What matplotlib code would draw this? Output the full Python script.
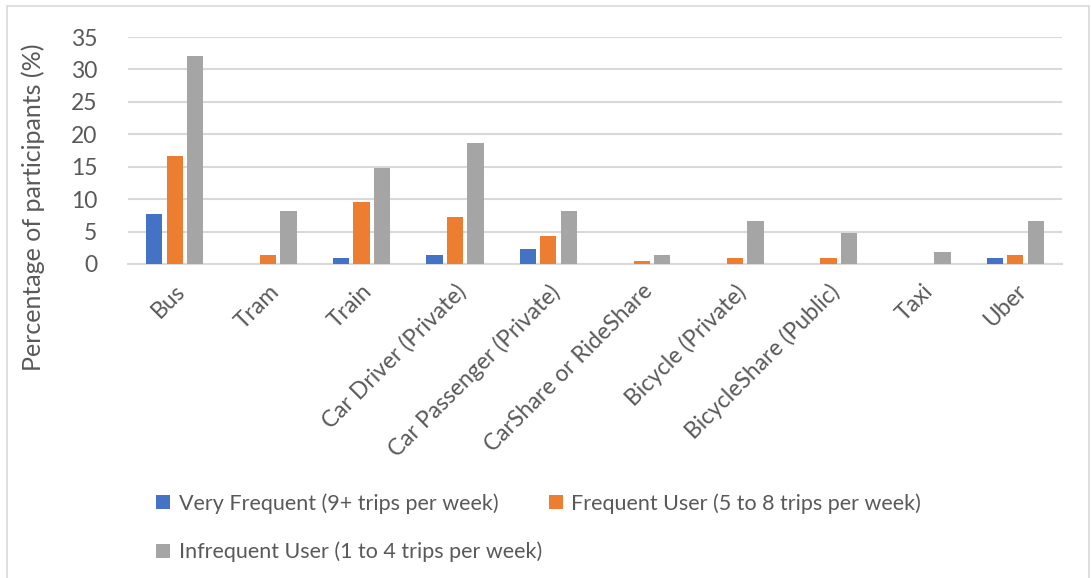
import matplotlib
matplotlib.use('Agg')
import matplotlib.pyplot as plt
from matplotlib.patches import Rectangle
import numpy as np

modes = ['Bus', 'Tram', 'Train', 'Car Driver (Private)', 'Car Passenger (Private)',
         'CarShare or RideShare', 'Bicycle (Private)', 'BicycleShare (Public)', 'Taxi', 'Uber']
veryFrequent = [7.7, 0, 1.0, 1.4, 2.3, 0, 0, 0, 0, 1.0]
frequentUser = [16.7, 1.4, 9.6, 7.2, 4.3, 0.5, 1.0, 1.0, 0, 1.4]
infrequentUser = [32.0, 8.1, 14.8, 18.7, 8.1, 1.4, 6.7, 4.8, 1.9, 6.7]

seriesLabels = ['Very Frequent (9+ trips per week)',
                'Frequent User (5 to 8 trips per week)',
                'Infrequent User (1 to 4 trips per week)']
colors = ['#4472C4', '#ED7D31', '#A5A5A5']
textColor = '#595959'
gridColor = '#D9D9D9'

plt.rcParams['font.family'] = ['Lato', 'DejaVu Sans']

W, H = 1091, 578
fig = plt.figure(figsize=(W / 100, H / 100), dpi=100)
ax = fig.add_axes([128 / W, 1 - 264 / H, (1062 - 128) / W, (264 - 37) / H])

# outer chart border
fig.patches.append(Rectangle((7 / W, -0.05), (1089 - 7) / W, 1.05 - 6 / H,
                             transform=fig.transFigure, fill=False,
                             edgecolor=gridColor, linewidth=1.2))

x = np.arange(len(modes))
width = 0.175
step = 0.22
bars = []
for i, (vals, col) in enumerate(zip([veryFrequent, frequentUser, infrequentUser], colors)):
    b = ax.bar(x + (i - 1) * step, vals, width, color=col, label=seriesLabels[i], zorder=3)
    bars.append(b)

ax.set_xlim(-0.5, len(modes) - 0.5)
ax.set_ylim(0, 35)
ax.set_yticks(np.arange(0, 36, 5))
ax.grid(axis='y', color=gridColor, linewidth=1.5, zorder=0)
for s in ['top', 'right', 'left']:
    ax.spines[s].set_visible(False)
ax.spines['bottom'].set_color(gridColor)
ax.spines['bottom'].set_linewidth(1.5)
ax.tick_params(axis='both', length=0, colors=textColor)
ax.tick_params(axis='y', labelsize=16.5, pad=22)
ax.set_xticks(x)
ax.set_xticklabels(modes, rotation=45, ha='right', rotation_mode='anchor',
                   fontsize=16.5, color=textColor)
ax.tick_params(axis='x', pad=12)

fig.text(33 / W, 1 - 207 / H, 'Percentage of participants (%)', rotation=90,
         ha='center', va='center', fontsize=18, color=textColor)

# column-wise fill: blue and gray in the first column, orange in the second
handles = [bars[0], bars[2], bars[1]]
labels = [seriesLabels[0], seriesLabels[2], seriesLabels[1]]
leg = fig.legend(handles, labels, ncol=2, loc='upper left',
                 bbox_to_anchor=(139 / W, 1 - 476 / H), frameon=False,
                 fontsize=15.5, handlelength=0.65, handleheight=0.65,
                 handletextpad=0.4, columnspacing=0.3, labelspacing=1.3,
                 borderpad=0.3)
for t in leg.get_texts():
    t.set_color(textColor)

fig.savefig('out.png', dpi=100)
